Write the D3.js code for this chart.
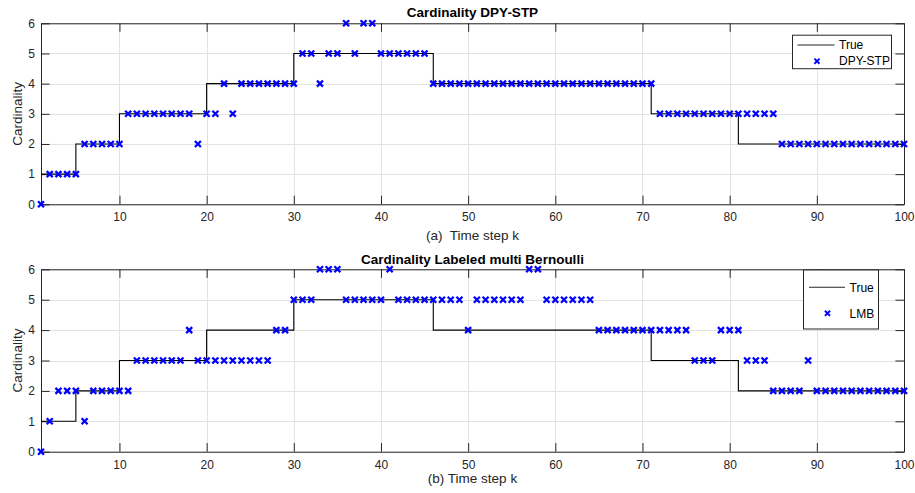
<!DOCTYPE html>
<html>
<head>
<meta charset="utf-8">
<script src="https://cdnjs.cloudflare.com/ajax/libs/d3/7.8.5/d3.min.js"></script>
<style>
    body { margin: 0; background: #fff; }
    svg { font-family: "Liberation Sans", Arial, Helvetica, sans-serif; }
    .grid line { stroke: #e2e2e2; shape-rendering: crispEdges; }
    .grid path { display: none; }
    .axis path, .axis line { stroke: #262626; }
    .axis text { fill: #262626; font-size: 12px; }
</style>
</head>
<body>
<div id="chart"></div>
<script>

// time step k (x axis)
const timeSteps = d3.range(1, 101);

// true cardinality, k = 1..100
const trueCard = [
    1, 1, 1, 1, 2, 2, 2, 2, 2, 3,
    3, 3, 3, 3, 3, 3, 3, 3, 3, 4,
    4, 4, 4, 4, 4, 4, 4, 4, 4, 5,
    5, 5, 5, 5, 5, 5, 5, 5, 5, 5,
    5, 5, 5, 5, 5, 4, 4, 4, 4, 4,
    4, 4, 4, 4, 4, 4, 4, 4, 4, 4,
    4, 4, 4, 4, 4, 4, 4, 4, 4, 4,
    3, 3, 3, 3, 3, 3, 3, 3, 3, 3,
    2, 2, 2, 2, 2, 2, 2, 2, 2, 2,
    2, 2, 2, 2, 2, 2, 2, 2, 2, 2
];

// DPY-STP estimate
const dpyEst = [
    0, 1, 1, 1, 1, 2, 2, 2, 2, 2,
    3, 3, 3, 3, 3, 3, 3, 3, 2, 3,
    3, 4, 3, 4, 4, 4, 4, 4, 4, 4,
    5, 5, 4, 5, 5, 6, 5, 6, 6, 5,
    5, 5, 5, 5, 5, 4, 4, 4, 4, 4,
    4, 4, 4, 4, 4, 4, 4, 4, 4, 4,
    4, 4, 4, 4, 4, 4, 4, 4, 4, 4,
    4, 3, 3, 3, 3, 3, 3, 3, 3, 3,
    3, 3, 3, 3, 3, 2, 2, 2, 2, 2,
    2, 2, 2, 2, 2, 2, 2, 2, 2, 2
];

// LMB estimate
const lmbEst = [
    0, 1, 2, 2, 2, 1, 2, 2, 2, 2,
    2, 3, 3, 3, 3, 3, 3, 4, 3, 3,
    3, 3, 3, 3, 3, 3, 3, 4, 4, 5,
    5, 5, 6, 6, 6, 5, 5, 5, 5, 5,
    6, 5, 5, 5, 5, 5, 5, 5, 5, 4,
    5, 5, 5, 5, 5, 5, 6, 6, 5, 5,
    5, 5, 5, 5, 4, 4, 4, 4, 4, 4,
    4, 4, 4, 4, 4, 3, 3, 3, 4, 4,
    4, 3, 3, 3, 2, 2, 2, 2, 3, 2,
    2, 2, 2, 2, 2, 2, 2, 2, 2, 2
];

const xTicks = [10, 20, 30, 40, 50, 60, 70, 80, 90, 100];
const yTicks = [0, 1, 2, 3, 4, 5, 6];

const markerPath = "M-3,-3L3,3M-3,3L3,-3";


class CardinalityVis {

    constructor(svg, config, trueData, estData) {
        this.svg = svg;
        this.config = config;
        this.trueData = trueData;
        this.estData = estData;
        this.displayData = [];

        this.initVis();
    }

    initVis() {
        let vis = this;
        let c = vis.config;

        vis.margin = {top: c.top, left: 41};
        vis.width = 863;
        vis.height = c.height;

        vis.g = vis.svg.append("g")
            .attr("transform", `translate(${vis.margin.left}, ${vis.margin.top})`);

        // scales
        vis.x = d3.scaleLinear().domain([1, 100]).range([0, vis.width]);
        vis.y = d3.scaleLinear().domain([0, 6]).range([vis.height, 0]);

        // grid lines
        vis.g.append("g")
            .attr("class", "grid")
            .attr("transform", `translate(0, ${vis.height})`)
            .call(d3.axisBottom(vis.x).tickValues(xTicks).tickSize(-vis.height).tickFormat(""));

        vis.g.append("g")
            .attr("class", "grid")
            .call(d3.axisLeft(vis.y).tickValues(yTicks).tickSize(-vis.width).tickFormat(""));

        // axes, ticks pointing inward (box style)
        let tick = 8.6;
        vis.g.append("g")
            .attr("class", "axis x")
            .attr("transform", `translate(0, ${vis.height})`)
            .call(d3.axisBottom(vis.x).tickValues(xTicks).tickSizeInner(-tick).tickSizeOuter(0).tickPadding(8.5));

        vis.g.append("g")
            .attr("class", "axis")
            .call(d3.axisTop(vis.x).tickValues(xTicks).tickSizeInner(-tick).tickSizeOuter(0).tickFormat(""));

        vis.g.append("g")
            .attr("class", "axis y")
            .call(d3.axisLeft(vis.y).tickValues(yTicks).tickFormat(d3.format("d"))
                .tickSizeInner(-tick).tickSizeOuter(0).tickPadding(6));

        vis.g.append("g")
            .attr("class", "axis")
            .attr("transform", `translate(${vis.width}, 0)`)
            .call(d3.axisRight(vis.y).tickValues(yTicks).tickSizeInner(-tick).tickSizeOuter(0).tickFormat(""));

        vis.g.selectAll(".axis text").style("font-size", "12px");

        // title
        vis.g.append("text")
            .attr("x", vis.width / 2)
            .attr("y", c.titleDy)
            .attr("text-anchor", "middle")
            .style("font-weight", "bold")
            .style("font-size", "13.5px")
            .attr("fill", "#000")
            .text(c.title);

        // x label
        vis.g.append("text")
            .attr("x", vis.width / 2)
            .attr("y", vis.height + c.xLabelDy)
            .attr("text-anchor", "middle")
            .style("font-size", "13.5px")
            .style("white-space", "pre")
            .attr("fill", "#262626")
            .text(c.xLabel);

        // y label
        vis.g.append("text")
            .attr("transform", `translate(-19, ${vis.height / 2}) rotate(-90)`)
            .attr("text-anchor", "middle")
            .style("font-size", "13.5px")
            .attr("fill", "#262626")
            .text("Cardinality");

        vis.lineGroup = vis.g.append("g").attr("class", "true-line");
        vis.markerGroup = vis.g.append("g").attr("class", "markers");
        vis.legendGroup = vis.g.append("g").attr("class", "legend");

        vis.wrangleData();
    }

    wrangleData() {
        let vis = this;

        vis.displayData = timeSteps.map((k, i) => ({
            k: k,
            truth: vis.trueData[i],
            est: vis.estData[i]
        }));

        vis.updateVis();
    }

    updateVis() {
        let vis = this;
        let c = vis.config;

        // true cardinality as stairs
        let stairs = d3.line()
            .x(d => vis.x(d.k))
            .y(d => vis.y(d.truth))
            .curve(d3.curveStepAfter);

        vis.lineGroup.append("path")
            .datum(vis.displayData)
            .attr("d", stairs)
            .attr("fill", "none")
            .attr("stroke", "#000")
            .attr("stroke-width", 1.1);

        // estimates as x markers
        vis.markerGroup.selectAll(".marker")
            .data(vis.displayData)
            .enter()
            .append("path")
            .attr("class", "marker")
            .attr("d", markerPath)
            .attr("transform", d => `translate(${vis.x(d.k)}, ${vis.y(d.est)})`)
            .attr("stroke", "#0000ff")
            .attr("stroke-width", 2.3)
            .attr("fill", "none");

        // legend
        let lg = c.legend;
        let leg = vis.legendGroup.attr("transform", `translate(${lg.x - vis.margin.left}, ${lg.y - vis.margin.top})`);

        leg.append("rect")
            .attr("width", lg.w)
            .attr("height", lg.h)
            .attr("fill", "#fff")
            .attr("stroke", "#262626")
            .attr("stroke-width", 1);

        leg.append("line")
            .attr("x1", lg.line[0]).attr("x2", lg.line[1])
            .attr("y1", lg.row1).attr("y2", lg.row1)
            .attr("stroke", "#262626")
            .attr("stroke-width", 1.1);

        leg.append("path")
            .attr("d", markerPath)
            .attr("transform", `translate(${lg.mark}, ${lg.row2}) scale(0.85)`)
            .attr("stroke", "#0000ff")
            .attr("stroke-width", 2.3)
            .attr("fill", "none");

        leg.selectAll(".leg-text")
            .data(["True", c.estName])
            .enter()
            .append("text")
            .attr("class", "leg-text")
            .attr("x", lg.textX)
            .attr("y", (d, i) => (i === 0 ? lg.row1 : lg.row2) + 4.3)
            .style("font-size", "12px")
            .attr("fill", "#000")
            .text(d => d);
    }
}

let svg = d3.select("#chart").append("svg")
    .attr("width", 915)
    .attr("height", 493);

new CardinalityVis(svg, {
    top: 23.3, height: 181,
    title: "Cardinality DPY-STP", titleDy: -6,
    xLabel: "(a)  Time step k", xLabelDy: 35.5,
    estName: "DPY-STP",
    legend: {x: 792.5, y: 35.2, w: 99, h: 33.5, row1: 9.8, row2: 26,
             line: [5, 42], mark: 24.5, textX: 46.5}
}, trueCard, dpyEst);

new CardinalityVis(svg, {
    top: 269.3, height: 182.4,
    title: "Cardinality Labeled multi Bernoulli", titleDy: -5,
    xLabel: "(b) Time step k", xLabelDy: 31.2,
    estName: "LMB",
    legend: {x: 803.5, y: 270, w: 75, h: 59, row1: 17.3, row2: 43.3,
             line: [5.5, 41.5], mark: 24, textX: 46}
}, trueCard, lmbEst);

</script>
</body>
</html>
